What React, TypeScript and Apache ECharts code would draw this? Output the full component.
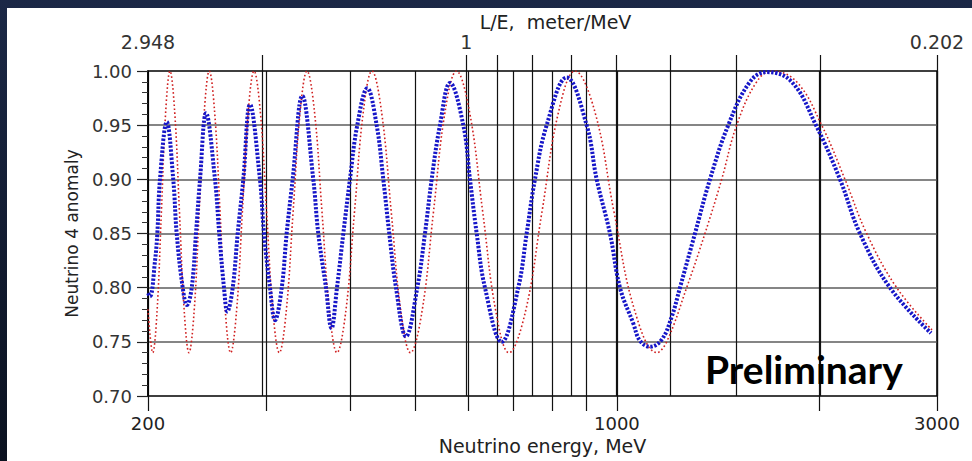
import React, { useEffect, useRef } from "react";
import * as echarts from "echarts";

// Neutrino energy (MeV) and anomaly values
const blueEnergy = [
  200.0, 201.4, 204.9, 206.5, 208.4, 213.3, 218.1, 220.7, 225.3, 228.6,
  232.4, 235.8, 239.1, 244.1, 251.7, 255.4, 259.6, 262.6, 267.5, 272.1,
  277.4, 283.8, 293.7, 297.8, 304.0, 309.3, 316.5, 321.9, 328.6, 339.6,
  352.7, 358.8, 368.4, 375.4, 382.6, 391.0, 400.0, 410.2, 424.5, 438.4,
  448.5, 457.8, 468.5, 484.8, 504.0, 517.5, 529.5, 544.8, 563.9, 590.2,
  603.9, 618.0, 635.8, 673.3, 712.8, 733.6, 754.8, 785.8, 841.6, 901.4,
  932.9, 976.5, 1010.6, 1057.8, 1082.4, 1120.2, 1166.0, 1206.7, 1241.6, 1307.2,
  1376.3, 1465.5, 1578.8, 1671.9, 1821.7, 1980.2, 2150.2, 2303.0, 2552.9, 2938.7,
];
const blueAnomaly = [
  0.795, 0.792, 0.825, 0.85, 0.90, 0.953, 0.90, 0.85, 0.80, 0.784,
  0.80, 0.85, 0.90, 0.961, 0.90, 0.85, 0.80, 0.778, 0.80, 0.85,
  0.90, 0.969, 0.90, 0.85, 0.80, 0.770, 0.80, 0.85, 0.90, 0.977,
  0.90, 0.85, 0.80, 0.7625, 0.80, 0.85, 0.90, 0.95, 0.984, 0.95,
  0.90, 0.85, 0.80, 0.755, 0.80, 0.85, 0.90, 0.95, 0.989, 0.95,
  0.90, 0.85, 0.80, 0.750, 0.80, 0.85, 0.90, 0.95, 0.994, 0.95,
  0.90, 0.85, 0.80, 0.767, 0.751, 0.7455, 0.752, 0.773, 0.80, 0.85,
  0.90, 0.95, 0.99, 0.999, 0.99, 0.95, 0.90, 0.85, 0.80, 0.758,
];
const redEnergy = [
  200.0, 203.3, 206.3, 209.4, 212.5, 215.7, 219.2, 222.8, 226.5, 230.2,
  234.3, 238.4, 242.6, 246.8, 251.4, 256.1, 260.8, 265.6, 271.0, 276.5,
  282.1, 287.8, 294.1, 300.5, 307.1, 313.9, 321.4, 329.1, 337.1, 345.2,
  354.2, 363.4, 372.9, 382.6, 394.3, 406.3, 418.7, 431.4, 445.9, 460.9,
  476.4, 492.4, 512.2, 532.8, 554.3, 576.6, 603.1, 630.9, 660.0, 690.4,
  730.6, 773.2, 818.3, 866.0, 927.5, 990.0, 1063.9, 1147.4, 1186.2, 1270.5,
  1352.8, 1432.7, 1508.4, 1615.5, 1702.6, 1853.2, 2019.3, 2187.5, 2356.6, 2612.3,
  2948.8,
];
const redAnomaly = [
  0.78,
  0.74, 0.778, 0.87, 0.962, 1.0, 0.962, 0.87, 0.778,
  0.74, 0.778, 0.87, 0.962, 1.0, 0.962, 0.87, 0.778,
  0.74, 0.778, 0.87, 0.962, 1.0, 0.962, 0.87, 0.778,
  0.74, 0.778, 0.87, 0.962, 1.0, 0.962, 0.87, 0.778,
  0.74, 0.778, 0.87, 0.962, 1.0, 0.962, 0.87, 0.778,
  0.74, 0.778, 0.87, 0.962, 1.0, 0.962, 0.87, 0.778,
  0.74, 0.778, 0.87, 0.962, 1.0, 0.962, 0.87, 0.778,
  0.74, 0.75, 0.80, 0.85, 0.90, 0.95, 0.99, 1.0, 0.99, 0.95,
  0.90, 0.85, 0.80, 0.761,
];

// Axis ticks and labels
const energyTicks = [200, 300, 400, 500, 600, 700, 800, 900, 1000, 2000, 3000];
const energyLabels = [200, 1000, 3000];
const leTicks = [2, 1, 0.9, 0.8, 0.7, 0.6, 0.5, 0.4, 0.3, 0.202];
const leLabels = [2.948, 1, 0.202];
const anomalyMin = 0.7;
const anomalyMax = 1.0;
const anomalyStep = 0.05;

export default function App() {
  const ref = useRef<HTMLDivElement>(null);
  useEffect(() => {
    document.body.style.margin = "0";
    const chart = echarts.init(ref.current as HTMLDivElement, null, { renderer: "svg" });
    const font = "DejaVu Sans";
    const blueData = blueEnergy.map((e, i) => [e, blueAnomaly[i]]);
    const redData = redEnergy.map((e, i) => [e, redAnomaly[i]]);
    chart.setOption({
      animation: false,
      backgroundColor: "#ffffff",
      grid: {
        left: 141,
        right: 35,
        top: 63,
        bottom: 65,
        show: true,
        borderColor: "#000",
        borderWidth: 1.5,
        backgroundColor: "transparent",
        containLabel: false,
        outerBoundsMode: "none",
      },
      xAxis: [
        {
          type: "log",
          logBase: 10,
          min: 200,
          max: 3000,
          position: "bottom",
          name: "Neutrino energy, MeV",
          nameLocation: "middle",
          nameGap: 40,
          nameMoveOverlap: false,
          nameTextStyle: { fontFamily: font, fontSize: 19, color: "#222" },
          axisLine: { show: false },
          axisTick: {
            show: true,
            customValues: energyTicks,
            length: 15,
            lineStyle: { color: "#111", width: 1.2 },
          },
          axisLabel: {
            customValues: energyLabels,
            margin: 18,
            fontFamily: font,
            fontSize: 18,
            color: "#222",
            formatter: (v: number) => String(Math.round(v)),
          },
          splitLine: { show: true, lineStyle: { color: "#111", width: 1.2 } },
          minorTick: { show: false },
          minorSplitLine: { show: false },
        },
        {
          type: "log",
          logBase: 10,
          min: 0.202,
          max: 2.948,
          inverse: true,
          position: "top",
          name: "L/E,  meter/MeV",
          nameLocation: "middle",
          nameGap: 40,
          nameMoveOverlap: false,
          nameTextStyle: { fontFamily: font, fontSize: 19, color: "#222", padding: [0, 0, 0, 26] },
          axisLine: { show: false },
          axisTick: {
            show: true,
            customValues: leTicks,
            length: 16,
            lineStyle: { color: "#111", width: 1.2 },
          },
          axisLabel: {
            customValues: leLabels,
            margin: 20,
            fontFamily: font,
            fontSize: 19,
            color: "#333",
            formatter: (v: number) => (Math.abs(v - 1) < 1e-6 ? "1" : v.toFixed(3)),
          },
          splitLine: { show: true, lineStyle: { color: "#111", width: 1.2 } },
          minorTick: { show: false },
          minorSplitLine: { show: false },
        },
      ],
      yAxis: {
        type: "value",
        min: anomalyMin,
        max: anomalyMax,
        interval: anomalyStep,
        name: "Neutrino 4 anomaly",
        nameLocation: "middle",
        nameRotate: 90,
        nameGap: 68,
        nameMoveOverlap: false,
        nameTextStyle: { fontFamily: font, fontSize: 17, color: "#222" },
        axisLine: { show: true, lineStyle: { color: "#000", width: 1.5 } },
        axisTick: { show: true, length: 11, lineStyle: { color: "#222", width: 1.2 } },
        minorTick: { show: true, splitNumber: 5, length: 6, lineStyle: { color: "#333", width: 1 } },
        axisLabel: {
          margin: 16,
          fontFamily: font,
          fontSize: 18,
          color: "#333",
          formatter: (v: number) => v.toFixed(2),
        },
        splitLine: {
          show: true,
          showMinLine: false,
          showMaxLine: false,
          lineStyle: { color: "#5c5c5c", width: 1.5 },
        },
      },
      series: [
        {
          type: "line",
          name: "red",
          xAxisIndex: 0,
          yAxisIndex: 0,
          data: redData,
          smooth: 0.4,
          showSymbol: false,
          lineStyle: { color: "#d02020", width: 1.6, type: [1.6, 2.4] },
          z: 3,
        },
        {
          type: "line",
          name: "blue",
          xAxisIndex: 0,
          yAxisIndex: 0,
          data: blueData,
          smooth: 0.4,
          showSymbol: false,
          lineStyle: { color: "#1616c8", width: 4, type: [2.4, 1.6] },
          z: 4,
        },
      ],
      graphic: [
        {
          type: "text",
          x: 698,
          y: 361,
          z: 10,
          style: {
            text: "Preliminary",
            fontFamily: "Lato",
            fontWeight: "bold",
            fontSize: 39,
            fill: "#000",
            verticalAlign: "middle",
            align: "left",
          },
        },
      ],
    });
    return () => chart.dispose();
  }, []);

  return (
    <div
      style={{
        position: "fixed",
        left: 0,
        top: 0,
        width: 972,
        height: 461,
        background: "linear-gradient(180deg, #1b2846 0%, #111a2e 60%, #0b1220 100%)",
      }}
    >
      <div
        ref={ref}
        style={{ position: "absolute", left: 7, top: 8, width: 965, height: 453, background: "#fff" }}
      />
    </div>
  );
}
